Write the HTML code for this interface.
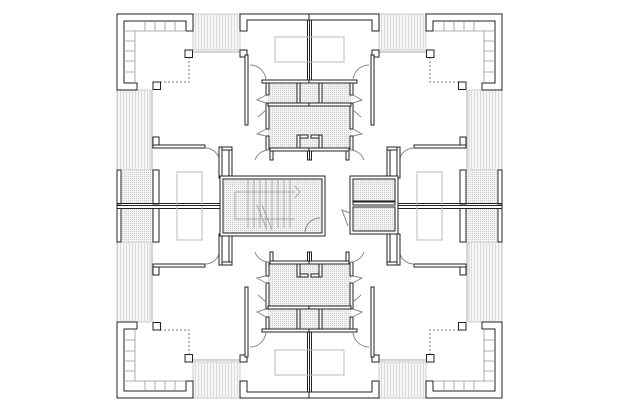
<!DOCTYPE html>
<html><head><meta charset="utf-8"><style>html,body{margin:0;padding:0;background:#fff}svg{display:block}</style></head>
<body>
<svg width="618" height="412" viewBox="0 0 618 412" xmlns="http://www.w3.org/2000/svg">
<defs>
<pattern id="h" width="2" height="2" patternUnits="userSpaceOnUse"><rect width="2" height="2" fill="#f2f2f2"/><rect width="1" height="1" fill="#cfcfcf"/></pattern>
<pattern id="b" width="3" height="3" patternUnits="userSpaceOnUse"><rect width="3" height="3" fill="#f6f6f6"/><rect width="1" height="3" fill="#dcdcdc"/></pattern>
<g id="q" stroke="#222" stroke-width="1" fill="#fff">
  <!-- balconies -->
  <rect x="193" y="14" width="47" height="36" fill="url(#b)" stroke="#ccc"/>
  <rect x="117" y="90" width="33" height="80" fill="url(#b)" stroke="#ccc"/>
  <line x1="193" y1="52" x2="240" y2="52" stroke="#aaa"/>
  <line x1="152" y1="90" x2="152" y2="170" stroke="#aaa"/>
  <!-- corner L -->
  <polygon points="117,14 193,14 193,31 186,31 186,21 124,21 124,83 137,83 137,90 117,90"/>
  <g stroke="#999" fill="none" stroke-width="0.8">
    <path d="M124,31 H186 M135,31 V83 M145,21 V31 M155,21 V31 M165,21 V31 M175,21 V31 M124,41 H135 M124,51 H135 M124,61 H135 M124,72 H135"/>
  </g>
  <path d="M189,57 V82 H160" stroke="#777" stroke-dasharray="2,2" fill="none"/>
  <rect x="185" y="50" width="7.5" height="7.5"/>
  <rect x="153" y="82" width="7.5" height="7.5"/>
  <!-- middle unit -->
  <polygon points="240,14 310,14 310,20 247,20 247,31 240,31"/>
  <rect x="240" y="50" width="7" height="7"/>
  <rect x="245" y="55" width="3" height="70"/>
  <rect x="307.5" y="20" width="2" height="140"/>
  <path d="M310,37 H275 V62 H310" stroke="#bbb" fill="none"/>
  <!-- bathrooms -->
  <rect x="268" y="83" width="42" height="65" fill="url(#h)" stroke="none"/>
  <rect x="262" y="80" width="48" height="3"/>
  <rect x="266" y="83" width="3" height="12"/>
  <rect x="266" y="103" width="3" height="26"/>
  <rect x="266" y="136" width="3" height="14"/>
  <rect x="268" y="103" width="42" height="3"/>
  <rect x="297" y="83" width="3" height="20"/>
  <rect x="297" y="135" width="3" height="15"/>
  <rect x="300" y="135" width="8" height="3"/>
  <rect x="270" y="148" width="40" height="3"/>
  <rect x="270" y="151" width="3" height="9"/>
  <path d="M266,95 L257,100 L266,103 M266,129 L257,134 L266,136 M266,110 L258,117" stroke="#888" fill="none"/>
  <path d="M250,65 A16,16 0 0 1 266,81" stroke="#888" fill="none"/>
  <!-- left wing -->
  <rect x="153" y="137" width="6" height="11"/>
  <rect x="153" y="145" width="52" height="3"/>
  <path d="M205,148 A15,15 0 0 1 220,163" stroke="#888" fill="none"/>
  <rect x="219" y="147" width="13" height="3"/>
  <rect x="219" y="147" width="3" height="31"/>
  <rect x="229" y="150" width="3" height="28"/>
  <rect x="121" y="170" width="32" height="33" fill="url(#h)" stroke="none"/>
  <rect x="117" y="170" width="4" height="37"/>
  <rect x="153" y="170" width="6" height="37"/>
  <rect x="117" y="203.5" width="104" height="3"/>
  <path d="M202,206 V172 H177 V206" stroke="#bbb" fill="none"/>
  <path d="M255,160 A15,15 0 0 1 270,150" stroke="#888" fill="none"/>
</g>
</defs>
<use href="#q"/>
<use href="#q" transform="matrix(-1,0,0,1,619,0)"/>
<use href="#q" transform="matrix(1,0,0,-1,0,412)"/>
<use href="#q" transform="matrix(-1,0,0,-1,619,412)"/>
<!-- core -->
<g stroke="#222" stroke-width="1">
  <rect x="220" y="176" width="105" height="60" fill="#fff"/>
  <rect x="223" y="179" width="99" height="54" fill="url(#h)"/>
  <g stroke="#999" fill="none" stroke-width="0.8">
    <path d="M248,180 V228 M254,180 V228 M260,180 V228 M266,180 V228 M272,180 V228 M278,180 V228 M284,180 V228 M290,180 V228"/>
    <path d="M235,192 H295 M235,192 V219 H295 M295,186 L300,192 L295,198"/>
    <path d="M257,205 L267,230 M262,205 L272,230"/>
  </g>
  <path d="M305,233 A15,15 0 0 1 320,218" stroke="#888" fill="none"/>
  <rect x="350" y="176" width="48" height="58" fill="#fff"/>
  <rect x="353" y="179" width="42" height="22" fill="url(#h)"/>
  <rect x="353" y="207" width="42" height="24" fill="url(#h)"/>
  <rect x="353" y="202" width="42" height="3" fill="#fff"/>
  <path d="M350,213 L342,210 L348,226" stroke="#888" fill="none"/>
</g>
</svg>
</body></html>
